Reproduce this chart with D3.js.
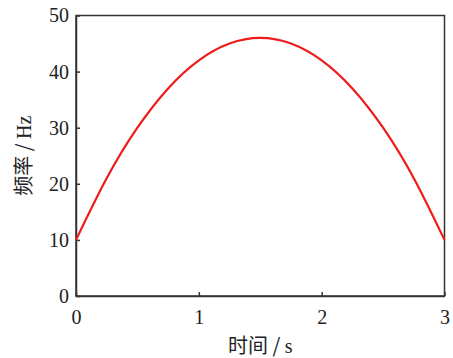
<!DOCTYPE html>
<html>
<head>
<meta charset="utf-8">
<script src="https://cdn.jsdelivr.net/npm/d3@7"></script>
<style>
  body { margin: 0; background: #fff; }
  .tick text { font-family: "Liberation Serif", "DejaVu Serif", serif; }
</style>
</head>
<body>
<div id="chart"></div>
<script>
// values
let timeValues = [0, 0.25, 0.5, 0.75, 1, 1.25, 1.5, 1.75, 2, 2.25, 2.5, 2.75, 3]
let freqValues = [10, 21, 30, 37, 42, 45, 46, 45, 42, 37, 30, 21, 10]
let xTicks = [0, 1, 2, 3]
let yTicks = [0, 10, 20, 30, 40, 50]

let width = 453, height = 358
let margin = {left: 76, top: 15.5, right: 8.5, bottom: 62}
let innerW = width - margin.left - margin.right
let innerH = height - margin.top - margin.bottom

let svg = d3.select('#chart').append('svg')
    .attr('width', width)
    .attr('height', height)

let g = svg.append('g').attr('transform', `translate(${margin.left},${margin.top})`)

let xScale = d3.scaleLinear().domain([0, 3]).range([0, innerW])
let yScale = d3.scaleLinear().domain([0, 50]).range([innerH, 0])

// frame
g.append('rect')
    .attr('width', innerW).attr('height', innerH)
    .attr('fill', 'none').attr('stroke', '#333').attr('stroke-width', 1.5)

let xAxis = d3.axisBottom(xScale).tickValues(xTicks).tickFormat(d3.format('d')).tickSizeInner(-4).tickSizeOuter(0).tickPadding(14)
let gx = g.append('g').attr('transform', `translate(0,${innerH})`).call(xAxis)

let yAxis = d3.axisLeft(yScale).tickValues(yTicks).tickFormat(d3.format('d')).tickSizeInner(-4).tickSizeOuter(0).tickPadding(7)
let gy = g.append('g').call(yAxis)

for (let ax of [gx, gy]) {
    ax.select('.domain').attr('stroke', '#333').attr('stroke-width', 1.5)
    ax.selectAll('.tick line').attr('stroke', '#333').attr('stroke-width', 1.5)
    ax.selectAll('.tick text').attr('font-size', 20).attr('fill', '#222')
}

let lineData = timeValues.map((t, i) => ({t: t, f: freqValues[i]}))
let line = d3.line()
    .x(d => xScale(d.t))
    .y(d => yScale(d.f))
    .curve(d3.curveNatural)

g.append('path')
    .attr('d', line(lineData))
    .attr('fill', 'none')
    .attr('stroke', '#ee1b1b')
    .attr('stroke-width', 2.2)

// axis titles
svg.append('text')
    .attr('x', margin.left + innerW / 2)
    .attr('y', 353)
    .attr('text-anchor', 'middle')
    .attr('font-size', 20)
    .attr('fill', '#222')
    .attr('font-family', '"Noto Sans CJK SC", "Liberation Serif", serif')
    .html('时间 / <tspan font-family="Liberation Serif">s</tspan>')

svg.append('text')
    .attr('transform', `translate(31,${margin.top + innerH / 2}) rotate(-90)`)
    .attr('text-anchor', 'middle')
    .attr('font-size', 20)
    .attr('fill', '#222')
    .attr('font-family', '"Noto Sans CJK SC", "Liberation Serif", serif')
    .html('频率 / <tspan font-family="Liberation Serif">Hz</tspan>')
</script>
</body>
</html>
